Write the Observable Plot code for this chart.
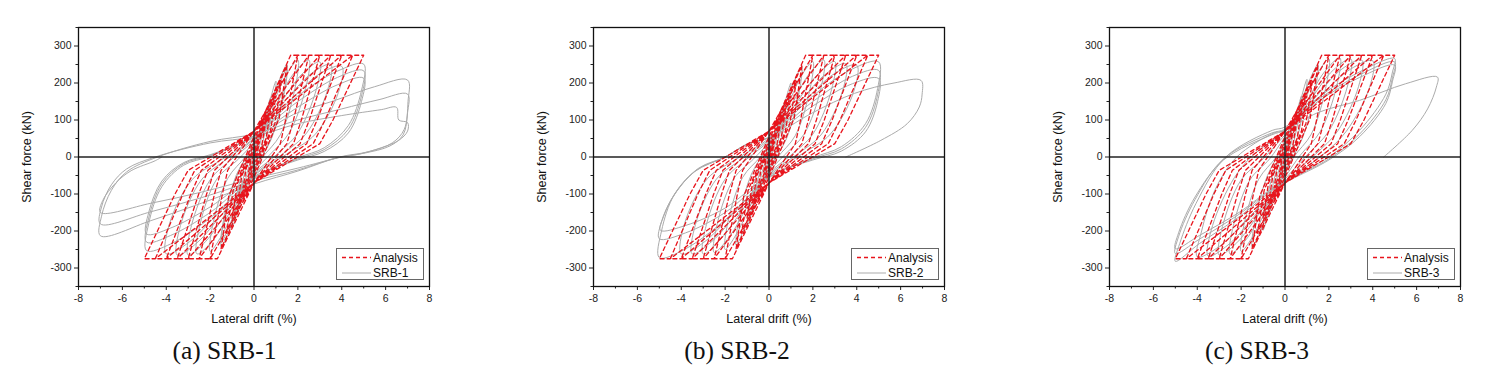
<!DOCTYPE html>
<html><head><meta charset="utf-8">
<script src="https://cdn.jsdelivr.net/npm/d3@7"></script>
<script src="https://cdn.jsdelivr.net/npm/@observablehq/plot@0.6"></script>
<style>
body{margin:0;background:#fff;width:1504px;height:388px;position:relative;overflow:hidden;font-family:"Liberation Sans",Arial,sans-serif}
.panel{position:absolute;top:0}
.caption{position:absolute;top:338px;width:240px;text-align:center;font-family:"Liberation Serif","Times New Roman",serif;font-size:25.5px;line-height:25.5px;color:#111;white-space:nowrap}
.legend{position:absolute}
</style></head><body>
<script>
// x range / tick values
const xTicks = [-8,-6,-4,-2,0,2,4,6,8];
const xMinorTicks = [-7,-5,-3,-1,1,3,5,7];
const yTicks = [-300,-200,-100,0,100,200,300];
const yMinorTicks = [-350,-250,-150,-50,50,150,250,350];
const panelNames = ["SRB-1","SRB-2","SRB-3"];
const panelLetters = ["(a)","(b)","(c)"];

// Analysis (red dashed) path: [drift %, shear kN]
const analysis = [
[0,0],
[0.25,41],[0.15,12],[0,-5],[-0.25,-41],[-0.15,-12],[0,5],
[0.5,83],[0.35,30],[0,-15],[-0.5,-83],[-0.35,-30],[0,15],
[0.75,124],[0.55,50],[0,-25],[-0.75,-124],[-0.55,-50],[0,25],
[1.0,165],[0.75,70],[0,-35],[-1.0,-165],[-0.75,-70],[0,35],
[1.25,206],[0.95,90],[0,-45],[-1.25,-206],[-0.95,-90],[0,45],
[1.5,248],[1.15,105],[0,-55],[-1.5,-248],[-1.15,-105],[0,55],
[1.67,275],[2.0,275],[1.44,100],[1.2,36],[0,-70],[-1.67,-275],[-2.0,-275],[-1.44,-100],[-1.2,-36],[0,70],
[2.0,275],[2.5,275],[1.8,100],[1.5,36],[0,-70],[-2.0,-275],[-2.5,-275],[-1.8,-100],[-1.5,-36],[0,70],
[2.5,275],[3.0,275],[2.16,100],[1.8,36],[0,-70],[-2.5,-275],[-3.0,-275],[-2.16,-100],[-1.8,-36],[0,70],
[3.0,275],[3.5,275],[2.52,100],[2.1,36],[0,-70],[-3.0,-275],[-3.5,-275],[-2.52,-100],[-2.1,-36],[0,70],
[3.5,275],[4.0,275],[2.88,100],[2.4,36],[0,-70],[-3.5,-275],[-4.0,-275],[-2.88,-100],[-2.4,-36],[0,70],
[4.0,275],[4.5,275],[3.24,100],[2.7,36],[0,-70],[-4.0,-275],[-4.5,-275],[-3.24,-100],[-2.7,-36],[0,70],
[4.5,275],[5.0,275],[3.6,100],[3.0,36],[0,-70],[-4.5,-275],[-5.0,-275],[-3.6,-100],[-3.0,-36],[0,70]
];

// Test SRB-1 (grey)
const srb1 = [
[0,0],
[0.12,30],[0.25,58],[0.15,25],[0,-5],[-0.12,-28],[-0.25,-55],[-0.15,-22],[0,5],
[0.25,55],[0.5,110],[0.35,55],[0.15,10],[0,-12],[-0.25,-55],[-0.5,-108],[-0.35,-52],[-0.15,-10],[0,12],
[0.35,75],[0.75,160],[0.6,95],[0.3,20],[0,-20],[-0.35,-72],[-0.75,-152],[-0.6,-88],[-0.3,-18],[0,20],
[0.45,95],[1.0,205],[0.85,130],[0.45,30],[0,-28],[-0.45,-90],[-1.0,-192],[-0.85,-120],[-0.45,-28],[0,28],
[0.6,120],[1.1,200],[1.5,250],[1.35,170],[0.8,50],[0,-35],[-0.6,-115],[-1.1,-195],[-1.5,-242],[-1.35,-165],[-0.8,-48],[0,35],
[0.7,130],[1.5,238],[1.3,150],[0.7,40],[0,-35],[-0.7,-125],[-1.5,-232],[-1.3,-145],[-0.7,-40],[0,35],
[0.8,135],[1.5,225],[2.0,262],[1.85,180],[1.2,60],[0.4,0],[0,-35],[-0.8,-128],[-1.5,-215],[-2.0,-255],[-1.85,-175],[-1.2,-58],[-0.4,0],[0,35],
[1.0,140],[1.8,225],[2.5,262],[2.35,185],[1.6,65],[0.7,5],[0,-40],[-1.0,-138],[-1.8,-220],[-2.6,-262],[-2.45,-180],[-1.7,-60],[-0.7,-5],[0,40],
[1.2,145],[2.2,225],[3.0,257],[2.85,185],[2.0,65],[1.0,5],[0,-45],[-1.2,-145],[-2.2,-228],[-3.0,-265],[-2.85,-185],[-2.0,-62],[-1.0,-5],[0,45],
[1.4,150],[2.6,225],[3.5,250],[3.35,180],[2.4,65],[1.3,8],[0,-48],[-1.4,-150],[-2.6,-232],[-3.5,-265],[-3.35,-185],[-2.4,-62],[-1.3,-8],[0,48],
[1.6,150],[3.0,225],[4.0,245],[3.85,175],[2.8,62],[1.5,8],[0,-50],[-1.6,-150],[-3.0,-232],[-4.0,-262],[-3.85,-180],[-2.8,-60],[-1.5,-8],[0,50],
[2.0,165],[3.8,232],[5.0,251],[4.9,180],[4.3,85],[3.2,25],[2.0,-2],[0,-58],[-2.0,-165],[-3.8,-235],[-4.9,-253],[-4.8,-180],[-4.2,-80],[-3.2,-22],[-2.0,2],[0,58],
[2.0,150],[3.8,215],[5.0,233],[4.9,165],[4.3,75],[3.2,20],[2.0,-5],[0,-55],[-2.0,-150],[-3.8,-212],[-4.9,-230],[-4.8,-165],[-4.2,-72],[-3.2,-18],[-2.0,4],[0,55],
[2.0,135],[3.8,195],[5.0,213],[4.9,150],[4.3,65],[3.2,15],[2.0,-8],[0,-52],[-2.0,-135],[-3.8,-192],[-4.9,-208],[-4.8,-150],[-4.2,-65],[-3.2,-15],[-2.0,6],[0,52],
[1.8,115],[3.65,152],[5.5,190],[7.0,208],[7.02,150],[6.85,75],[6.3,38],[5.2,14],[3.9,0],[2.0,-38],[0,-73],[-2.4,-125],[-4.7,-172],[-7.0,-213],[-6.95,-160],[-6.5,-90],[-5.8,-40],[-4.4,0],[-2.0,42],[0,62],
[2.0,100],[4.0,130],[5.7,155],[7.0,170],[7.0,120],[6.8,60],[6.2,30],[5.0,10],[3.8,-2],[2.0,-35],[0,-65],[-2.4,-110],[-4.7,-148],[-7.0,-181],[-6.95,-135],[-6.5,-75],[-5.8,-32],[-4.5,0],[-2.0,38],[0,55],
[2.0,90],[4.0,112],[5.8,128],[6.5,134],[6.6,100],[7.0,93],[7.0,70],[6.6,45],[5.8,25],[4.8,8],[4.0,0],[2.0,-30],[0,-58],[-2.4,-95],[-4.7,-125],[-7.0,-150],[-6.9,-118],[-6.3,-70],[-5.6,-37],[-4.5,-10],[-4.2,0]
];

// Test SRB-2 (grey)
const srb2 = [
[0,0],
[0.12,28],[0.25,55],[0.15,22],[0,-5],[-0.12,-26],[-0.25,-52],[-0.15,-20],[0,5],
[0.25,52],[0.5,105],[0.35,52],[0.15,10],[0,-12],[-0.25,-52],[-0.5,-102],[-0.35,-50],[-0.15,-10],[0,12],
[0.35,72],[0.75,155],[0.6,92],[0.3,20],[0,-20],[-0.35,-70],[-0.75,-148],[-0.6,-85],[-0.3,-18],[0,20],
[0.45,92],[1.0,200],[0.85,125],[0.45,30],[0,-28],[-0.45,-88],[-1.0,-188],[-0.85,-118],[-0.45,-28],[0,28],
[0.6,118],[1.1,198],[1.5,245],[1.35,168],[0.8,50],[0,-33],[-0.6,-112],[-1.1,-190],[-1.5,-238],[-1.35,-160],[-0.8,-46],[0,33],
[0.8,132],[1.5,222],[2.0,258],[1.85,178],[1.2,58],[0.4,0],[0,-35],[-0.8,-125],[-1.5,-210],[-2.0,-250],[-1.85,-170],[-1.2,-55],[-0.4,0],[0,35],
[1.0,138],[1.8,222],[2.5,262],[2.35,182],[1.6,62],[0.7,5],[0,-40],[-1.0,-135],[-1.8,-215],[-2.5,-258],[-2.35,-178],[-1.6,-58],[-0.7,-5],[0,40],
[1.2,142],[2.2,222],[3.0,258],[2.85,182],[2.0,62],[1.0,5],[0,-44],[-1.2,-142],[-2.2,-222],[-3.0,-262],[-2.85,-182],[-2.0,-60],[-1.0,-5],[0,44],
[1.4,148],[2.6,225],[3.5,252],[3.35,178],[2.4,62],[1.3,8],[0,-47],[-1.4,-148],[-2.6,-228],[-3.5,-262],[-3.35,-182],[-2.4,-60],[-1.3,-8],[0,47],
[1.6,150],[3.0,226],[4.0,248],[3.85,175],[2.8,62],[1.5,8],[0,-50],[-1.6,-150],[-3.0,-232],[-4.0,-262],[-3.85,-180],[-2.8,-58],[-1.5,-6],[0,50],
[2.0,165],[3.8,238],[5.0,257],[4.95,185],[4.4,90],[3.3,28],[2.0,-2],[0,-56],[-2.0,-170],[-3.8,-248],[-5.0,-272],[-4.9,-200],[-4.3,-100],[-3.2,-30],[-2.0,0],[-1.0,35],[0,54],
[2.0,150],[3.8,218],[5.0,234],[4.95,168],[4.4,80],[3.3,22],[2.0,-5],[0,-54],[-2.0,-150],[-3.8,-205],[-5.0,-221],[-4.9,-175],[-4.4,-110],[-3.4,-40],[-2.0,0],[-1.0,34],[0,52],
[2.0,138],[3.8,198],[5.0,212],[4.95,150],[4.4,68],[3.3,16],[2.0,-8],[0,-50],[-2.0,-138],[-3.8,-185],[-4.95,-198],[-4.8,-160],[-4.3,-100],[-3.3,-35],[-2.0,0],[-1.0,35],[0,52],
[2.0,120],[3.9,172],[5.7,200],[6.93,207],[6.98,170],[6.85,135],[6.3,90],[5.1,45],[3.5,0]
];

// Test SRB-3 (grey)
const srb3 = [
[0,0],
[0.12,30],[0.25,60],[0.15,25],[0,-5],[-0.12,-28],[-0.25,-56],[-0.15,-22],[0,5],
[0.25,56],[0.5,112],[0.35,55],[0.15,10],[0,-12],[-0.25,-55],[-0.5,-110],[-0.35,-52],[-0.15,-10],[0,12],
[0.35,78],[0.75,165],[0.6,98],[0.3,20],[0,-20],[-0.35,-75],[-0.75,-158],[-0.6,-90],[-0.3,-18],[0,20],
[0.45,98],[1.0,210],[0.85,132],[0.45,30],[0,-28],[-0.45,-92],[-1.0,-198],[-0.85,-122],[-0.45,-28],[0,28],
[0.6,125],[1.1,205],[1.5,250],[1.35,172],[0.8,52],[0,-38],[-0.6,-118],[-1.1,-198],[-1.5,-242],[-1.35,-165],[-0.8,-50],[0,38],
[0.8,140],[1.5,228],[2.0,265],[1.85,185],[1.2,62],[0.4,0],[0,-45],[-0.8,-135],[-1.5,-218],[-2.0,-255],[-1.85,-178],[-1.2,-60],[-0.4,0],[0,45],
[1.0,150],[1.8,230],[2.5,268],[2.35,190],[1.6,68],[0.7,5],[0,-55],[-1.0,-148],[-1.8,-225],[-2.5,-262],[-2.35,-185],[-1.6,-62],[-0.7,-5],[0,55],
[1.2,158],[2.2,235],[3.0,265],[2.85,192],[2.0,70],[1.0,5],[0,-60],[-1.2,-155],[-2.2,-232],[-3.0,-265],[-2.85,-188],[-2.0,-62],[-1.0,-5],[0,60],
[1.4,162],[2.6,238],[3.5,262],[3.35,190],[2.4,70],[1.4,8],[0,-65],[-1.4,-160],[-2.6,-238],[-3.5,-268],[-3.3,-185],[-2.3,-55],[-1.4,8],[0,68],
[1.6,165],[3.0,238],[4.0,260],[3.85,188],[2.8,70],[1.7,5],[0,-68],[-1.6,-160],[-3.0,-242],[-4.0,-270],[-3.8,-200],[-3.2,-90],[-2.2,0],[-0.5,65],[0,72],
[1.5,160],[3.4,230],[5.0,266],[4.9,230],[4.6,170],[3.4,72],[2.0,0],[0.33,-54],[0,-70],[-0.58,-90],[-2.1,-162],[-3.9,-234],[-5.0,-282],[-4.8,-234],[-4.06,-126],[-2.7,0],[-0.58,72],[0,81],
[1.5,155],[3.4,222],[5.0,257],[4.9,215],[4.6,155],[3.4,62],[2.0,-5],[0.3,-58],[0,-70],[-0.6,-88],[-2.1,-155],[-3.9,-222],[-5.0,-261],[-4.85,-215],[-4.1,-115],[-2.8,-5],[-0.6,65],[0,75],
[1.5,150],[3.4,215],[5.0,248],[4.9,205],[4.6,145],[3.4,55],[2.0,-8],[0.3,-60],[0,-70],[-0.6,-86],[-2.1,-150],[-3.9,-212],[-5.0,-248],[-4.85,-205],[-4.1,-108],[-2.8,-8],[-0.6,60],[0,72],
[1.5,120],[3.4,153],[5.5,198],[6.95,216],[6.9,189],[6.5,130],[5.8,72],[4.5,0]
];

const tests = [srb1, srb2, srb3];
const panelLeft = [8, 523, 1039];   // page x of each svg
const captionCenter = [224.5, 737, 1257];

const RED = "#e8141c", GREY = "#ababab";
const FW = 351; // frame width
tests.forEach((test, i) => {
  const chart = Plot.plot({
    width: 440, height: 330,
    marginLeft: 70, marginRight: 19, marginTop: 27, marginBottom: 44,
    x: {domain: [-8, 8]},
    y: {domain: [-350, 350]},
    style: {fontFamily: "'Liberation Sans', Arial, sans-serif", fontSize: "10.5px", color: "#222", background: "transparent", overflow: "visible"},
    marks: [
      Plot.line(test, {x: d => d[0], y: d => d[1], stroke: GREY, strokeWidth: 1, curve: "catmull-rom"}),
      Plot.line(analysis, {x: d => d[0], y: d => d[1], stroke: RED, strokeWidth: 1.3, strokeDasharray: "4,3"}),
      Plot.ruleX([0], {stroke: "#222", strokeWidth: 1.5}),
      Plot.ruleY([0], {stroke: "#222", strokeWidth: 1.5}),
      Plot.axisX({ticks: xMinorTicks, tickSize: 2.5, text: null, label: null}),
      Plot.axisX({ticks: xTicks, tickSize: 4, tickPadding: 4, label: null, tickFormat: d => String(d)}),
      Plot.axisY({ticks: yMinorTicks, tickSize: 2.5, text: null, label: null}),
      Plot.axisY({ticks: yTicks, tickSize: 4, tickPadding: 3, label: null, tickFormat: d => String(d)}),
      Plot.frame({stroke: "#111", strokeWidth: 1.3}),
      Plot.text(["Shear force (kN)"], {text: d => d, frameAnchor: "left", dx: -52, rotate: -90, textAnchor: "middle", lineAnchor: "middle", fontSize: 12.5, fill: "#111"}),
      Plot.text(["Lateral drift (%)"], {text: d => d, frameAnchor: "bottom", dy: 32, textAnchor: "middle", lineAnchor: "middle", fontSize: 12.5, fill: "#111"})
    ]
  });
  const holder = document.createElement("div");
  holder.className = "panel";
  holder.style.left = panelLeft[i] + "px";
  holder.appendChild(chart);
  document.body.appendChild(holder);

  // legend box (bottom-right inside frame)
  const frameRight = panelLeft[i] + 70 + FW;
  const lw = 88, lh = 32;
  const lg = document.createElement("div");
  lg.className = "legend";
  lg.style.left = (frameRight - 5 - lw) + "px";
  lg.style.top = "248px";
  lg.innerHTML = `<svg width="${lw}" height="${lh}" style="display:block;font-family:'Liberation Sans',Arial,sans-serif;font-size:12px">
    <rect x="0.5" y="0.5" width="${lw-1}" height="${lh-1}" fill="#fff" stroke="#666" stroke-width="1"/>
    <line x1="6" x2="35" y1="9.5" y2="9.5" stroke="${RED}" stroke-width="1.5" stroke-dasharray="4,3"/>
    <text x="37" y="9.5" dy="0.35em" fill="#111">Analysis</text>
    <line x1="6" x2="35" y1="25" y2="25" stroke="${GREY}" stroke-width="1"/>
    <text x="37" y="25" dy="0.35em" fill="#111">${panelNames[i]}</text>
  </svg>`;
  document.body.appendChild(lg);

  const cap = document.createElement("div");
  cap.className = "caption";
  cap.style.left = (captionCenter[i] - 120) + "px";
  cap.textContent = panelLetters[i] + " " + panelNames[i];
  document.body.appendChild(cap);
});
</script>
</body></html>
